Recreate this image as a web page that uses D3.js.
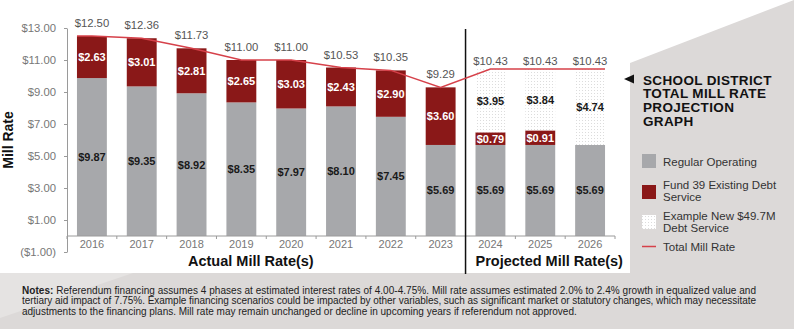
<!DOCTYPE html>
<html>
<head>
<meta charset="utf-8">
<script src="https://cdn.jsdelivr.net/npm/d3@7"></script>
<style>
  body { margin: 0; background: #fff; }
  svg { display: block; }
</style>
</head>
<body>
<svg id="chart" width="794" height="329"></svg>
<script>
// ---- data ----
const years = ["2016", "2017", "2018", "2019", "2020", "2021", "2022", "2023", "2024", "2025", "2026"];
const projectedYears = ["2024", "2025", "2026"];
const regularOperating = [9.87, 9.35, 8.92, 8.35, 7.97, 8.10, 7.45, 5.69, 5.69, 5.69, 5.69];
const fund39Debt = [2.63, 3.01, 2.81, 2.65, 3.03, 2.43, 2.90, 3.60, 0.79, 0.91, 0];
const newDebtService = [0, 0, 0, 0, 0, 0, 0, 0, 3.95, 3.84, 4.74];
const totalMillRate = [12.50, 12.36, 11.73, 11.00, 11.00, 10.53, 10.35, 9.29, 10.43, 10.43, 10.43];
const yTicks = [-1, 1, 3, 5, 7, 9, 11, 13];

const titleLines = ["SCHOOL DISTRICT", "TOTAL MILL RATE", "PROJECTION", "GRAPH"];
const legendItems = [
  { key: "regular", lines: ["Regular Operating"] },
  { key: "fund39", lines: ["Fund 39 Existing Debt", "Service"] },
  { key: "newDebt", lines: ["Example New $49.7M", "Debt Service"] },
  { key: "total", lines: ["Total Mill Rate"] }
];
const notesLead = "Notes:";
const notesLines = [
  " Referendum financing assumes 4 phases at estimated interest rates of 4.00-4.75%. Mill rate assumes estimated 2.0% to 2.4% growth in equalized value and",
  "tertiary aid impact of 7.75%. Example financing scenarios could be impacted by other variables, such as significant market or statutory changes, which may necessitate",
  "adjustments to the financing plans. Mill rate may remain unchanged or decline in upcoming years if referendum not approved."
];

// ---- styles ----
const FONT = "'Liberation Sans', Arial, sans-serif";
const colors = {
  regular: "#a7a8ab",
  fund39: "#8a1818",
  line: "#d6414a",
  panel: "#dcd9d8",
  panelLight: "#e5e3e2",
  axis: "#9a9a9a",
  tickText: "#777",
  valueText: "#555"
};

const svg = d3.select("#chart");
const W = 794, H = 329;

// ---- background panels ----
svg.append("rect").attr("width", W).attr("height", H).attr("fill", colors.panel);
svg.append("polygon")
  .attr("points", "0,273 133,273 0,318")
  .attr("fill", colors.panelLight);
svg.append("polygon")
  .attr("points", `0,0 ${W},0 630,63 630,273 0,273`)
  .attr("fill", "#fff");

// dotted fill for the new debt service segments
const defs = svg.append("defs");
const pat = defs.append("pattern")
  .attr("id", "dots").attr("patternUnits", "userSpaceOnUse")
  .attr("width", 3).attr("height", 3);
pat.append("rect").attr("width", 3).attr("height", 3).attr("fill", "#fff");
pat.append("rect").attr("width", 1).attr("height", 1).attr("fill", "#dcdcdc");

// ---- scales ----
const x = d3.scaleBand().domain(years).range([67, 615]).paddingInner(0.4).paddingOuter(0.2);
const y = d3.scaleLinear().domain([-1, 13]).range([252, 28]);
const step = x.step(), bw = x.bandwidth();
const gap = (step - bw) / 2;

// ---- y axis ----
const fmtMoney = d => d < 0 ? `($${Math.abs(d).toFixed(2)})` : `$${d.toFixed(2)}`;
const yAxis = svg.append("g")
  .attr("transform", "translate(67,0)")
  .call(d3.axisLeft(y).tickValues(yTicks).tickFormat(fmtMoney).tickSize(3).tickSizeOuter(0).tickPadding(8));
yAxis.select(".domain").attr("stroke", colors.axis);
yAxis.selectAll(".tick line").attr("stroke", colors.axis);
yAxis.selectAll(".tick text")
  .attr("fill", colors.tickText).attr("font-family", FONT).attr("font-size", 11.3);

svg.append("text")
  .attr("transform", `translate(13,${y(6)}) rotate(-90)`)
  .attr("text-anchor", "middle")
  .attr("font-family", FONT).attr("font-weight", "bold").attr("font-size", 14)
  .attr("fill", "#111")
  .text("Mill Rate");

// ---- stacked bars ----
const table = years.map((yr, i) => ({
  year: yr,
  regular: regularOperating[i],
  fund39: fund39Debt[i],
  newDebt: newDebtService[i]
}));
const stack = d3.stack().keys(["regular", "fund39", "newDebt"]);
const series = stack(table);
const fills = { regular: colors.regular, fund39: colors.fund39, newDebt: "url(#dots)" };
const labelColors = { regular: "#1a1a1a", fund39: "#fff", newDebt: "#1a1a1a" };

series.forEach(s => {
  const g = svg.append("g").attr("class", "series-" + s.key);
  g.selectAll("rect")
    .data(s.filter(d => d[1] - d[0] > 0))
    .join("rect")
    .attr("x", d => x(d.data.year))
    .attr("width", bw)
    .attr("y", d => y(d[1]))
    .attr("height", d => y(d[0]) - y(d[1]))
    .attr("fill", fills[s.key]);
  g.selectAll("text")
    .data(s.filter(d => d[1] - d[0] > 0))
    .join("text")
    .attr("x", d => x(d.data.year) + bw / 2)
    .attr("y", d => (y(d[0]) + y(d[1])) / 2 + 4)
    .attr("text-anchor", "middle")
    .attr("font-family", FONT).attr("font-weight", "bold").attr("font-size", 11)
    .attr("fill", labelColors[s.key])
    .text(d => "$" + (d[1] - d[0]).toFixed(2));
});

// ---- x axis ----
const axisY = y(0);
svg.append("line")
  .attr("x1", 67).attr("x2", 615).attr("y1", axisY).attr("y2", axisY)
  .attr("stroke", colors.axis);
svg.append("g").selectAll("line")
  .data(years.concat(["end"]))
  .join("line")
  .attr("x1", d => d === "end" ? 615 : x(d) - gap)
  .attr("x2", d => d === "end" ? 615 : x(d) - gap)
  .attr("y1", axisY).attr("y2", axisY + 3)
  .attr("stroke", colors.axis);
svg.append("g").selectAll("text")
  .data(years)
  .join("text")
  .attr("x", d => x(d) + bw / 2)
  .attr("y", 248)
  .attr("text-anchor", "middle")
  .attr("font-family", FONT).attr("font-size", 11)
  .attr("fill", colors.tickText)
  .text(d => d);

// group titles and divider
svg.append("text")
  .attr("x", 188).attr("y", 266)
  .attr("font-family", FONT).attr("font-weight", "bold").attr("font-size", 14.5)
  .attr("fill", "#111").text("Actual Mill Rate(s)");
svg.append("text")
  .attr("x", x(projectedYears[0])).attr("y", 266)
  .attr("font-family", FONT).attr("font-weight", "bold").attr("font-size", 14.5)
  .attr("fill", "#111").text("Projected Mill Rate(s)");
const divX = x(projectedYears[0]) - gap;
svg.append("line")
  .attr("x1", divX).attr("x2", divX).attr("y1", 29).attr("y2", 274)
  .attr("stroke", "#111").attr("stroke-width", 1.5);

// ---- total mill rate line ----
const linePts = years.map((yr, i) => [x(yr) + bw / 2, y(totalMillRate[i])]);
linePts.unshift([x(years[0]), y(totalMillRate[0])]);
linePts.push([x(years[years.length - 1]) + bw, y(totalMillRate[totalMillRate.length - 1])]);
svg.append("path")
  .attr("d", d3.line()(linePts))
  .attr("fill", "none").attr("stroke", colors.line).attr("stroke-width", 1.5);

// totals above bars
svg.append("g").selectAll("text")
  .data(years.map((yr, i) => ({ year: yr, total: totalMillRate[i] })))
  .join("text")
  .attr("x", d => x(d.year) + bw / 2)
  .attr("y", d => y(d.total) - (projectedYears.includes(d.year) ? 4 : 9))
  .attr("text-anchor", "middle")
  .attr("font-family", FONT).attr("font-size", 11.3)
  .attr("fill", colors.valueText)
  .text(d => "$" + d.total.toFixed(2));

// ---- title ----
svg.append("polygon")
  .attr("points", "624,79 634,74.5 634,83.5")
  .attr("fill", "#111");
svg.append("g").selectAll("text")
  .data(titleLines)
  .join("text")
  .attr("x", 643)
  .attr("y", (d, i) => 84.5 + i * 13.8)
  .attr("font-family", FONT).attr("font-weight", "bold").attr("font-size", 13.5)
  .attr("letter-spacing", 0.35)
  .attr("fill", "#111")
  .text(d => d);

// ---- legend ----
const legendTop = { regular: 154, fund39: 185, newDebt: 215, total: 240 };
const legendText = { regular: 166, fund39: 189, newDebt: 220, total: 251 };
const lg = svg.append("g");
legendItems.forEach(item => {
  if (item.key === "total") {
    lg.append("line")
      .attr("x1", 642).attr("x2", 656)
      .attr("y1", legendText.total - 4.5).attr("y2", legendText.total - 4.5)
      .attr("stroke", colors.line).attr("stroke-width", 1.5);
  } else {
    lg.append("rect")
      .attr("x", 642).attr("y", legendTop[item.key])
      .attr("width", 14).attr("height", 14)
      .attr("fill", fills[item.key]);
  }
  item.lines.forEach((ln, j) => {
    lg.append("text")
      .attr("x", 663).attr("y", legendText[item.key] + j * 11.5)
      .attr("font-family", FONT).attr("font-size", 11.5)
      .attr("fill", "#333")
      .text(ln);
  });
});

// ---- notes (first two lines set to a common measure) ----
const notes = svg.append("g").attr("font-family", FONT).attr("font-size", 10).attr("fill", "#222");
notesLines.forEach((ln, i) => {
  const t = notes.append("text").attr("x", 22).attr("y", 293.5 + i * 10.6);
  if (i < 2) t.attr("textLength", 734).attr("lengthAdjust", "spacing");
  if (i === 0) {
    t.append("tspan").attr("font-weight", "bold").text(notesLead);
  }
  t.append("tspan").text(ln);
});
</script>
</body>
</html>
